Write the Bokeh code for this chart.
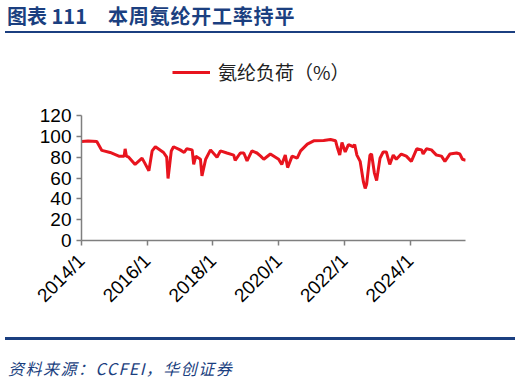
import pandas as pd
from bokeh.plotting import figure
from bokeh.layouts import column
from bokeh.models import (Range1d, FixedTicker, DatetimeTickFormatter,
                          Legend, LegendItem, Div)
from bokeh.embed import file_html
from bokeh.resources import INLINE

dates = [
    "2014-01-03", "2014-03-15", "2014-06-20", "2014-08-15", "2014-11-15",
    "2015-02-20", "2015-04-20", "2015-05-01", "2015-05-15", "2015-06-10",
    "2015-08-20", "2015-11-05", "2015-12-01", "2016-01-20", "2016-02-25",
    "2016-04-01", "2016-07-01", "2016-08-05", "2016-08-20", "2016-09-25",
    "2016-10-20", "2017-01-01", "2017-02-15", "2017-03-15", "2017-05-15",
    "2017-06-01", "2017-06-25", "2017-08-15", "2017-09-01", "2017-10-12",
    "2017-12-05", "2018-02-15", "2018-03-25", "2018-06-05", "2018-08-20",
    "2018-09-05", "2018-11-01", "2018-12-10", "2019-01-15", "2019-03-10",
    "2019-05-05", "2019-06-15", "2019-07-20", "2019-10-01", "2020-01-01",
    "2020-02-05", "2020-03-15", "2020-04-10", "2020-05-30", "2020-07-25",
    "2020-09-01", "2020-11-15", "2021-01-25", "2021-05-15", "2021-07-30",
    "2021-09-25", "2021-10-12", "2021-11-10", "2021-12-05", "2022-01-10",
    "2022-02-15", "2022-04-10", "2022-04-25", "2022-05-20", "2022-06-25",
    "2022-08-01", "2022-08-20", "2022-09-05", "2022-10-12", "2022-10-30",
    "2022-11-30", "2022-12-25", "2023-02-01", "2023-03-08", "2023-04-12",
    "2023-05-20", "2023-06-28", "2023-08-01", "2023-09-25", "2023-11-20",
    "2024-01-15", "2024-03-15", "2024-05-08", "2024-05-25", "2024-07-01",
    "2024-08-25", "2024-10-20", "2024-12-15", "2025-01-22", "2025-03-18",
    "2025-06-01", "2025-07-08", "2025-08-05", "2025-09-12",
]
load = [
    95, 95.5, 95, 86.5, 84.5,
    81, 81, 88, 81, 80,
    73, 79, 75, 67, 86,
    90, 84.5, 80, 59.5, 86,
    90, 87, 84.5, 88, 87,
    73, 81, 78, 62, 78,
    87, 80, 86, 84, 82,
    77, 84, 84, 76.5, 86,
    84, 81, 78, 83, 78,
    73, 82, 70, 81, 79,
    86, 92.5, 95.7, 96, 97,
    95.7, 90, 82, 94, 85,
    92, 90, 92, 82, 76,
    56, 50, 54, 82, 83,
    65, 57.5, 79, 85, 85,
    73, 82, 78, 83, 81,
    76, 88, 87, 83, 88,
    87, 82, 81, 76, 83,
    84, 83, 78, 77,
]
tick_years = ["2014-01-01", "2016-01-01", "2018-01-01", "2020-01-01",
              "2022-01-01", "2024-01-01"]
y_ticks = [0, 20, 40, 60, 80, 100, 120]

series_name = "氨纶负荷（%）"
title_no = "图表 111"
title_txt = "本周氨纶开工率持平"
source_txt = "资料来源：CCFEI，华创证券"

RED = "#E8141E"
BLUE = "#1B3F80"
CJK = "Noto Sans CJK SC"

# ---- header ----
head_html = (
    '<div style="position:relative;width:520px;height:40px;">'
    f'<span style="position:absolute;left:7px;top:3px;font-family:\'{CJK}\';'
    f'font-weight:bold;font-size:20px;line-height:26px;color:{BLUE};'
    f'white-space:nowrap;">{title_no}</span>'
    f'<span style="position:absolute;left:108px;top:3px;font-family:\'{CJK}\';'
    f'font-weight:bold;font-size:20px;line-height:26px;color:{BLUE};'
    f'letter-spacing:0.8px;white-space:nowrap;">{title_txt}</span>'
    f'<div style="position:absolute;left:5px;top:31px;width:510px;height:2px;'
    f'background:{BLUE};"></div></div>'
)
head = Div(text=head_html, width=520, height=40, margin=0)

# ---- main chart ----
x = pd.to_datetime(dates)
x_start = pd.Timestamp("2014-01-01")
x_end = pd.Timestamp("2025-09-08")

p = figure(x_axis_type="datetime", output_backend="svg", toolbar_location=None,
           width=520, height=290, margin=0,
           min_border_left=81, min_border_right=55,
           min_border_top=0, min_border_bottom=90,
           x_range=Range1d(x_start, x_end), y_range=Range1d(0, 192))
p.background_fill_color = "white"
p.border_fill_color = "white"
p.outline_line_color = None
p.grid.visible = False

r = p.line(x, load, line_color=RED, line_width=3)

for ax in (p.xaxis[0], p.yaxis[0]):
    ax.axis_line_color = "#7f7f7f"
    ax.axis_line_width = 1.5
    ax.major_tick_line_color = "#7f7f7f"
    ax.major_tick_line_width = 1.5
    ax.major_tick_in = 0
    ax.major_tick_out = 5
    ax.minor_tick_line_color = None
    ax.major_label_text_font = "Liberation Sans"
    ax.major_label_text_font_size = "19px"
    ax.major_label_text_color = "#000000"

p.yaxis[0].ticker = FixedTicker(ticks=y_ticks)
p.yaxis[0].bounds = (0, 120)
p.yaxis[0].major_label_standoff = 5

tick_ms = [pd.Timestamp(t).value // 10**6 for t in tick_years]
p.xaxis[0].ticker = FixedTicker(ticks=tick_ms)
fmt = "%Y/1"
p.xaxis[0].formatter = DatetimeTickFormatter(
    years=fmt, months=fmt, days=fmt, hours=fmt, minutes=fmt, seconds=fmt,
    milliseconds=fmt, microseconds=fmt, hourmin=fmt, minsec=fmt)
p.xaxis[0].major_label_orientation = 0.785398
p.xaxis[0].major_label_standoff = 12

legend = Legend(items=[LegendItem(label=series_name, renderers=[r])],
                location=(91, 155), orientation="horizontal",
                glyph_width=38, glyph_height=20, label_height=20,
                label_standoff=8, padding=0, margin=0, spacing=0,
                border_line_color=None, background_fill_alpha=0,
                label_text_font=CJK,
                label_text_font_size="19px", label_text_color="#222222")
p.add_layout(legend, "center")

# ---- footer ----
foot_html = (
    '<div style="position:relative;width:520px;height:55px;">'
    f'<div style="position:absolute;left:5px;top:7px;width:510px;height:3px;'
    f'background:{BLUE};"></div>'
    f'<span style="position:absolute;left:8px;top:27px;font-family:\'{CJK}\';'
    f'font-style:italic;font-size:16px;line-height:22px;color:{BLUE};'
    f'letter-spacing:1.5px;white-space:nowrap;">{source_txt}</span></div>'
)
foot = Div(text=foot_html, width=520, height=55, margin=0)

layout = column(head, p, foot, spacing=0)
open("out.html", "w").write(file_html(layout, INLINE))
